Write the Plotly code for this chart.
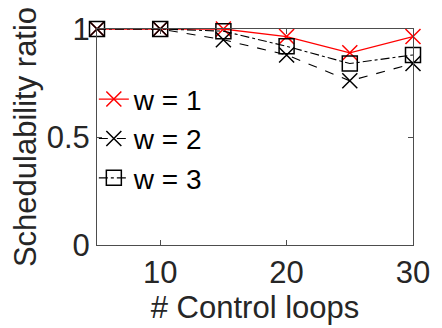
import plotly.graph_objects as go

loops = [5, 10, 15, 20, 25, 30]
w1 = [1.0, 1.0, 1.0, 0.965, 0.89, 0.965]
w2 = [1.0, 1.0, 0.95, 0.88, 0.76, 0.84]
w3 = [1.0, 1.0, 0.99, 0.92, 0.84, 0.88]

FONT = "Liberation Sans"
TXT = "#262626"
FS = 31

fig = go.Figure()
fig.add_trace(go.Scatter(x=loops, y=w1, name="w = 1", mode="lines+markers", cliponaxis=False,
                         line=dict(color="red", width=1.3, dash="solid"),
                         marker=dict(symbol="x-thin", size=15, line=dict(color="red", width=1.5))))
fig.add_trace(go.Scatter(x=loops, y=w2, name="w = 2", mode="lines+markers", cliponaxis=False,
                         line=dict(color="black", width=1.1, dash="dash"),
                         marker=dict(symbol="x-thin", size=15, line=dict(color="black", width=1.5))))
fig.add_trace(go.Scatter(x=loops, y=w3, name="w = 3", mode="lines+markers", cliponaxis=False,
                         line=dict(color="black", width=1.1, dash="dashdot"),
                         marker=dict(symbol="square-open", size=15, color="black", line=dict(color="black", width=1.5))))

axis_common = dict(showline=True, linecolor="#4d4d4d", linewidth=1, mirror="ticks",
                   ticks="inside", ticklen=5, tickcolor="#4d4d4d", showgrid=False, zeroline=False,
                   ticklabeloverflow="allow",
                   tickfont=dict(size=FS, color=TXT, family=FONT))
fig.update_xaxes(range=[5, 30], tickvals=[10, 20, 30], **axis_common,
                 title=dict(text="# Control loops", font=dict(size=FS, color=TXT, family=FONT), standoff=2))
fig.update_yaxes(range=[0, 1], tickvals=[0, 0.5, 1], ticktext=["0", "0.5", "1"], **axis_common,
                 title=dict(text="Schedulability ratio", font=dict(size=FS, color=TXT, family=FONT), standoff=0))
fig.update_layout(width=442, height=328, margin=dict(l=97, r=15, t=25, b=83),
                  plot_bgcolor="white", paper_bgcolor="white",
                  font=dict(family=FONT, color=TXT),
                  legend=dict(x=-0.01, y=0.79, xanchor="left", yanchor="top", bgcolor="rgba(0,0,0,0)",
                              font=dict(size=28, color="black", family=FONT),
                              itemwidth=30, tracegroupgap=0, traceorder="normal"))
fig.write_html("out.html")
